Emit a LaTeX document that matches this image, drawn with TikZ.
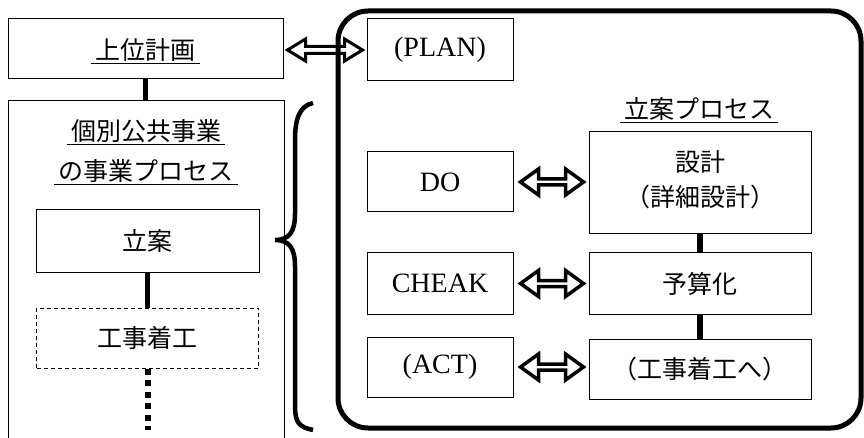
\documentclass[tikz,border=0pt]{standalone}
\usepackage{fontspec}
\setmainfont{Liberation Serif}
\newfontfamily\jp{Noto Sans CJK JP}
\usetikzlibrary{calc}
\tikzset{
  box/.style={draw, line width=1pt, inner sep=0pt, font=\fontsize{28}{32}\selectfont},
  jpbox/.style={box, font=\jp\fontsize{25}{30}\selectfont},
  lbl/.style={inner xsep=4pt, inner ysep=0pt, font=\jp\fontsize{25}{30}\selectfont},
  ul/.style={line width=1.6pt},
  link/.style={line width=5.5pt},
  harrow/.style={line width=3.5pt, line join=miter},
}
\newcommand\dblarr[6][]{%
  \draw[harrow,#1] let \p1=(#2), \p2=(#3) in
    (\x1,\y1) -- (\x1+#4,\y1+#5) -- (\x1+#4,\y1+#6) -- (\x2-#4,\y1+#6) -- (\x2-#4,\y1+#5)
    -- (\x2,\y1) -- (\x2-#4,\y1-#5) -- (\x2-#4,\y1-#6) -- (\x1+#4,\y1-#6) -- (\x1+#4,\y1-#5) -- cycle;}
\begin{document}
\begin{tikzpicture}[x=1pt,y=-1pt]
\useasboundingbox (0,0) rectangle (864,438);
% left column
\node[box, minimum width=275pt, minimum height=60pt] (jyoui) at (145.5,49) {};
\node[lbl] (tjyoui) at (145.5,50) {上位計画};
\draw[ul] ([yshift=-4pt]tjyoui.base west) -- ([yshift=-4pt]tjyoui.base east);
\coordinate (ktl) at (8,101);
\coordinate (ktr) at (284,101);
\draw[line width=1pt] (8,445) -- (ktl) -- (ktr) -- (284,445);
\draw[link] (jyoui.south) -- (jyoui.south |- ktl);
\node[lbl] (tk1) at (146,131) {個別公共事業};
\draw[ul] ([yshift=-4pt]tk1.base west) -- ([yshift=-4pt]tk1.base east);
\node[lbl] (tk2) at (146,171) {の事業プロセス};
\draw[ul] ([yshift=-4pt]tk2.base west) -- ([yshift=-4pt]tk2.base east);
\node[jpbox, minimum width=223pt, minimum height=62pt] (rian) at (147.5,241) {立案};
\node[jpbox, dashed, dash pattern=on 4pt off 3pt, minimum width=222pt, minimum height=60pt] (koji) at (147.5,338) {工事着工};
\draw[link] (rian.south) -- (koji.north);
\coordinate (kend) at (147.5,430);
\draw[line width=6pt, dash pattern=on 6pt off 5.5pt] (koji.south) -- (kend);
% brace
\draw[line width=4.5pt] (313,103) .. controls (299,106) and (295,120) .. (295,140) -- (295,214)
  .. controls (295,232) and (289,240) .. (275,240) .. controls (289,240) and (295,248) .. (295,266)
  -- (295,405) .. controls (295,423) and (299,427) .. (313,430);
% big rounded frame
\node[draw, line width=5pt, rounded corners=30pt, minimum width=523pt, minimum height=417pt, inner sep=0pt] (pdca) at (599.5,219.5) {};
% PDCA boxes
\node[box, minimum width=146pt, minimum height=62pt] (plan) at (440,50) {(PLAN)};
\node[box, minimum width=146pt, minimum height=60pt] (do) at (440,182) {DO};
\node[box, minimum width=146pt, minimum height=61pt] (check) at (440,283.5) {CHEAK};
\node[box, minimum width=146pt, minimum height=60pt] (act) at (440,367) {(ACT)};
% process
\node[lbl] (tproc) at (699,109) {立案プロセス};
\draw[ul] ([yshift=-4pt]tproc.base west) -- ([yshift=-4pt]tproc.base east);
\node[box, minimum width=222pt, minimum height=102pt] (sekkei) at (700,183) {};
\node[lbl] (ts1) at (700,162) {設計};
\node[lbl] (ts2) at (700,197) {（詳細設計）};
\node[jpbox, minimum width=222pt, minimum height=61pt] (yosan) at (700,283.5) {予算化};
\node[jpbox, minimum width=222pt, minimum height=60pt] (kojihe) at (700,369) {（工事着工へ）};
\draw[link] (sekkei.south) -- (yosan.north);
\draw[link] (yosan.south) -- (kojihe.north);
% arrows
\dblarr[line width=3pt]{$(jyoui.east |- plan.west)+(4,0)$}{$(plan.west)+(-4,0)$}{18pt}{11pt}{3.5pt}
\dblarr{$(do.east)+(7,0)$}{$(sekkei.west |- do.east)+(-5,0)$}{18pt}{13pt}{3pt}
\dblarr{$(check.east)+(7,0)$}{$(yosan.west)+(-5,0)$}{18pt}{13pt}{3pt}
\dblarr{$(act.east)+(7,0)$}{$(kojihe.west |- act.east)+(-5,0)$}{18pt}{13pt}{3pt}
\end{tikzpicture}
\end{document}
